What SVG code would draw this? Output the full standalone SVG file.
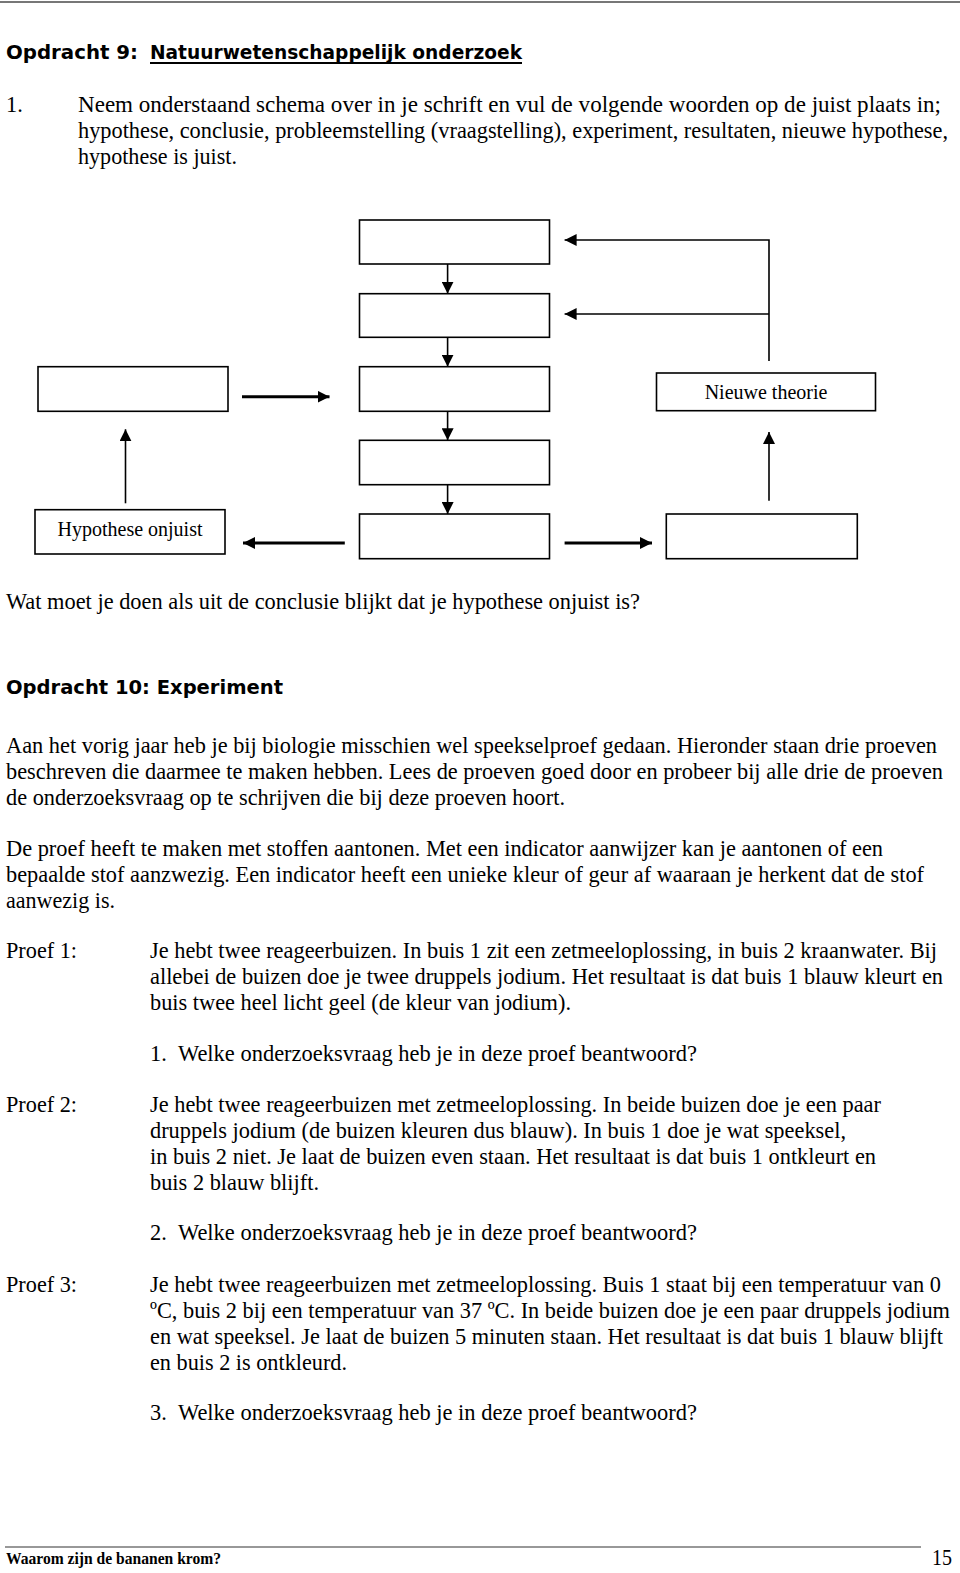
<svg xmlns="http://www.w3.org/2000/svg" width="960" height="1573" viewBox="0 0 960 1573">
<defs>
<style>
.t{font-family:"Liberation Serif","Times New Roman",serif;font-size:22.4px;fill:#000}
.lbl{font-family:"Liberation Serif","Times New Roman",serif;font-size:20px;fill:#000}
.h{font-family:"DejaVu Sans","Liberation Sans",sans-serif;font-size:20px;font-weight:bold;fill:#000}
.box{fill:#fff;stroke:#000;stroke-width:1.6}
.c{fill:none;stroke:#000;stroke-width:1.6}
.c2{fill:none;stroke:#000;stroke-width:3}
</style>
<marker id="ah" markerUnits="userSpaceOnUse" markerWidth="14" markerHeight="12" refX="12" refY="6" orient="auto">
<path d="M0,0 L12,6 L0,12 z" fill="#000"/>
</marker>
</defs>
<rect width="960" height="1573" fill="#fff"/>
<line x1="0" y1="2" x2="960" y2="2" stroke="#777" stroke-width="2"/>

<text class="h" x="6" y="59" textLength="132" lengthAdjust="spacingAndGlyphs">Opdracht 9:</text>
<text class="h" x="150" y="59" textLength="372" lengthAdjust="spacingAndGlyphs">Natuurwetenschappelijk onderzoek</text>
<line x1="150" y1="63" x2="522" y2="63" stroke="#000" stroke-width="1.8"/>

<text class="t" x="6" y="112">1.</text>
<text class="t" x="78" y="112" textLength="863" lengthAdjust="spacingAndGlyphs">Neem onderstaand schema over in je schrift en vul de volgende woorden op de juist plaats in;</text>
<text class="t" x="78" y="138" textLength="870" lengthAdjust="spacingAndGlyphs">hypothese, conclusie, probleemstelling (vraagstelling), experiment, resultaten, nieuwe hypothese,</text>
<text class="t" x="78" y="164" textLength="159" lengthAdjust="spacingAndGlyphs">hypothese is juist.</text>

<g id="connectors">
<path class="c" d="M447.6,264 V293.7" marker-end="url(#ah)"/>
<path class="c" d="M447.6,337.3 V366.7" marker-end="url(#ah)"/>
<path class="c" d="M447.6,411.3 V440.3" marker-end="url(#ah)"/>
<path class="c" d="M447.6,484.7 V514" marker-end="url(#ah)"/>
<path class="c" d="M769,361 V240 H564.6" marker-end="url(#ah)"/>
<path class="c" d="M769,314 H564.6" marker-end="url(#ah)"/>
<path class="c2" d="M242,396.7 H329.5" marker-end="url(#ah)"/>
<path class="c2" d="M344.8,543 H243" marker-end="url(#ah)"/>
<path class="c2" d="M564.6,543 H652" marker-end="url(#ah)"/>
<path class="c" d="M125.5,503.3 V429.3" marker-end="url(#ah)"/>
<path class="c" d="M769,500.7 V432" marker-end="url(#ah)"/>
</g>

<g id="boxA"><rect class="box" x="359.5" y="220" width="190" height="44"/></g>
<g id="boxB"><rect class="box" x="359.5" y="293.7" width="190" height="43.6"/></g>
<g id="boxC"><rect class="box" x="38" y="366.7" width="190" height="44.6"/></g>
<g id="boxD"><rect class="box" x="359.5" y="366.7" width="190" height="44.6"/></g>
<g id="nieuwe-theorie"><rect class="box" x="656.5" y="373" width="219" height="37.7"/>
<text class="lbl" x="766" y="399" text-anchor="middle">Nieuwe theorie</text></g>
<g id="boxE"><rect class="box" x="359.5" y="440.3" width="190" height="44.4"/></g>
<g id="boxF"><rect class="box" x="359.5" y="514" width="190" height="44.7"/></g>
<g id="hypothese-onjuist"><rect class="box" x="35" y="509.7" width="190" height="44.3"/>
<text class="lbl" x="130" y="536" text-anchor="middle">Hypothese onjuist</text></g>
<g id="boxG"><rect class="box" x="666.3" y="514" width="191" height="44.7"/></g>

<text class="t" x="6" y="609" textLength="634" lengthAdjust="spacingAndGlyphs">Wat moet je doen als uit de conclusie blijkt dat je hypothese onjuist is?</text>

<text class="h" x="6" y="694" textLength="277" lengthAdjust="spacingAndGlyphs">Opdracht 10: Experiment</text>

<text class="t" x="6" y="753" textLength="931" lengthAdjust="spacingAndGlyphs">Aan het vorig jaar heb je bij biologie misschien wel speekselproef gedaan. Hieronder staan drie proeven</text>
<text class="t" x="6" y="779" textLength="937" lengthAdjust="spacingAndGlyphs">beschreven die daarmee te maken hebben. Lees de proeven goed door en probeer bij alle drie de proeven</text>
<text class="t" x="6" y="805" textLength="559" lengthAdjust="spacingAndGlyphs">de onderzoeksvraag op te schrijven die bij deze proeven hoort.</text>

<text class="t" x="6" y="856" textLength="877" lengthAdjust="spacingAndGlyphs">De proef heeft te maken met stoffen aantonen. Met een indicator aanwijzer kan je aantonen of een</text>
<text class="t" x="6" y="882" textLength="918" lengthAdjust="spacingAndGlyphs">bepaalde stof aanzwezig. Een indicator heeft een unieke kleur of geur af waaraan je herkent dat de stof</text>
<text class="t" x="6" y="908" textLength="109" lengthAdjust="spacingAndGlyphs">aanwezig is.</text>

<text class="t" x="6" y="958" textLength="71" lengthAdjust="spacingAndGlyphs">Proef 1:</text>
<text class="t" x="150" y="958" textLength="787" lengthAdjust="spacingAndGlyphs">Je hebt twee reageerbuizen. In buis 1 zit een zetmeeloplossing, in buis 2 kraanwater. Bij</text>
<text class="t" x="150" y="984" textLength="793" lengthAdjust="spacingAndGlyphs">allebei de buizen doe je twee druppels jodium. Het resultaat is dat buis 1 blauw kleurt en</text>
<text class="t" x="150" y="1010" textLength="421" lengthAdjust="spacingAndGlyphs">buis twee heel licht geel (de kleur van jodium).</text>
<text class="t" x="150" y="1061">1.</text>
<text class="t" x="178" y="1061" textLength="519" lengthAdjust="spacingAndGlyphs">Welke onderzoeksvraag heb je in deze proef beantwoord?</text>

<text class="t" x="6" y="1112" textLength="71" lengthAdjust="spacingAndGlyphs">Proef 2:</text>
<text class="t" x="150" y="1112" textLength="731" lengthAdjust="spacingAndGlyphs">Je hebt twee reageerbuizen met zetmeeloplossing. In beide buizen doe je een paar</text>
<text class="t" x="150" y="1138" textLength="696" lengthAdjust="spacingAndGlyphs">druppels jodium (de buizen kleuren dus blauw). In buis 1 doe je wat speeksel,</text>
<text class="t" x="150" y="1164" textLength="726" lengthAdjust="spacingAndGlyphs">in buis 2 niet. Je laat de buizen even staan. Het resultaat is dat buis 1 ontkleurt en</text>
<text class="t" x="150" y="1190" textLength="169" lengthAdjust="spacingAndGlyphs">buis 2 blauw blijft.</text>
<text class="t" x="150" y="1240">2.</text>
<text class="t" x="178" y="1240" textLength="519" lengthAdjust="spacingAndGlyphs">Welke onderzoeksvraag heb je in deze proef beantwoord?</text>

<text class="t" x="6" y="1292" textLength="71" lengthAdjust="spacingAndGlyphs">Proef 3:</text>
<text class="t" x="150" y="1292" textLength="791" lengthAdjust="spacingAndGlyphs">Je hebt twee reageerbuizen met zetmeeloplossing. Buis 1 staat bij een temperatuur van 0</text>
<text class="t" x="150" y="1318" textLength="800" lengthAdjust="spacingAndGlyphs">ºC, buis 2 bij een temperatuur van 37 ºC. In beide buizen doe je een paar druppels jodium</text>
<text class="t" x="150" y="1344" textLength="793" lengthAdjust="spacingAndGlyphs">en wat speeksel. Je laat de buizen 5 minuten staan. Het resultaat is dat buis 1 blauw blijft</text>
<text class="t" x="150" y="1370" textLength="197" lengthAdjust="spacingAndGlyphs">en buis 2 is ontkleurd.</text>
<text class="t" x="150" y="1420">3.</text>
<text class="t" x="178" y="1420" textLength="519" lengthAdjust="spacingAndGlyphs">Welke onderzoeksvraag heb je in deze proef beantwoord?</text>

<line x1="5" y1="1547" x2="921" y2="1547" stroke="#333" stroke-width="1.2"/>
<text class="t" x="6" y="1564" style="font-size:16px;font-weight:bold" textLength="215" lengthAdjust="spacingAndGlyphs">Waarom zijn de bananen krom?</text>
<text class="t" x="932" y="1565" style="font-size:23px" textLength="20" lengthAdjust="spacingAndGlyphs">15</text>
</svg>
